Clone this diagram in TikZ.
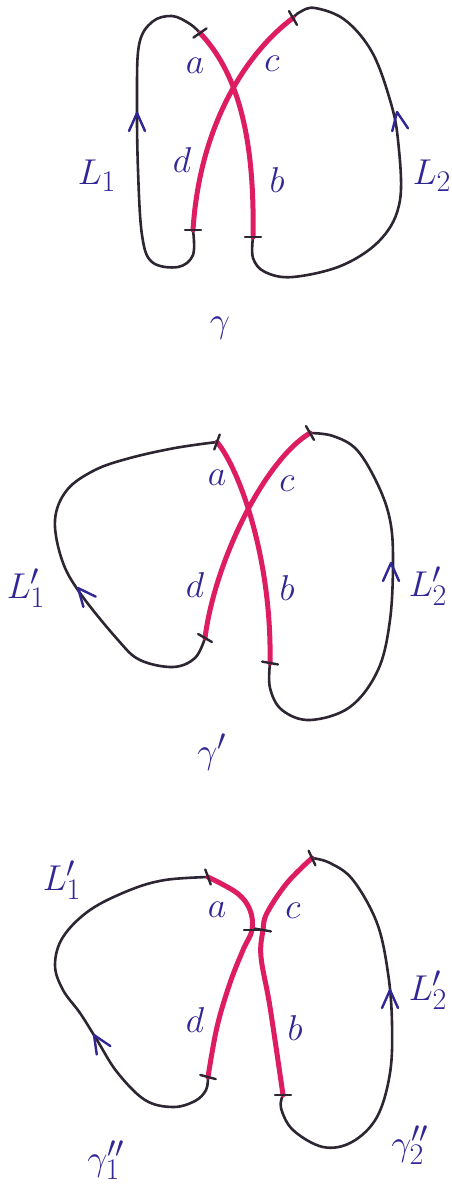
\documentclass[tikz,border=0pt]{standalone}
\usetikzlibrary{calc}
\definecolor{strand}{RGB}{222,28,98}
\definecolor{ink}{RGB}{48,38,150}
\definecolor{pencil}{RGB}{45,38,50}
\tikzset{
  loopst/.style={draw=pencil, line width=2.6bp, line cap=round, line join=round},
  strandst/.style={draw=strand, line width=5bp, line cap=round},
  tickst/.style={draw=pencil, line width=2.4bp, line cap=round},
  chevst/.style={draw=ink, line width=2.4bp, line cap=round, line join=round},
  lab/.style={text=ink, inner sep=0pt, font=\Huge, scale=1.45, transform shape}
}
\newcommand\chevron[2]{\draw[chevst, shift={#1}, rotate=#2] (-18,-8) -- (0,0) -- (-18,8);}
\newcommand\tickmark[2]{\draw[tickst, shift={#1}, rotate=#2] (-8,0) -- (8,0);}
\begin{document}
\begin{tikzpicture}[x=1bp,y=-1bp]
\path[fill=white, use as bounding box] (0,0) rectangle (452,1192);

% ---------------- diagram 1 ----------------
\coordinate (A1) at (200,33);
\coordinate (C1) at (293,18);
\coordinate (D1) at (193,230);
\coordinate (B1) at (253,237);
\draw[loopst] plot[smooth, tension=0.6] coordinates {(D1) (193,255) (178,267) (152,262) (142,235) (138,170) (137,100) (139,45) (152,22) (172,16) (190,24) (A1)};
\draw[loopst] plot[smooth, tension=0.6] coordinates {(B1) (253,258) (265,272) (293,277) (343,265) (382,238) (400,200) (398,140) (390,100) (372,52) (345,20) (315,8) (300,12) (C1)};
\draw[strandst] (C1) .. controls (250,50) and (200,120) .. (D1);
\draw[strandst] (A1) .. controls (235,70) and (255,130) .. (B1);
\tickmark{(A1)}{35}
\tickmark{(C1)}{-60}
\tickmark{(D1)}{0}
\tickmark{(B1)}{0}
\chevron{(137,113)}{90}
\chevron{(397,112)}{100}
\node[lab] (la1) at (195,66) {$a$};
\node[lab] (lc1) at (272,64) {$c$};
\node[lab] (ld1) at (182,160) {$d$};
\node[lab] (lb1) at (277,180) {$b$};
\node[lab] (lL1) at (97,176) {$L_1$};
\node[lab] (lL2) at (432,176) {$L_2$};
\node[lab] (lg1) at (220,328) {$\gamma$};

% ---------------- diagram 2 ----------------
\coordinate (A2) at (217,442);
\coordinate (C2) at (310,433);
\coordinate (D2) at (205,638);
\coordinate (B2) at (270,663);
\draw[loopst] plot[smooth, tension=0.6] coordinates {(D2) (195,658) (173,667) (140,660) (118,640) (80,593) (62,560) (55,520) (67,490) (95,470) (130,458) (175,448) (A2)};
\draw[loopst] plot[smooth, tension=0.6] coordinates {(B2) (270,688) (282,710) (310,720) (350,707) (378,670) (390,620) (393,560) (390,520) (378,485) (357,450) (333,436) (C2)};
\draw[strandst] (C2) .. controls (265,460) and (215,560) .. (D2);
\draw[strandst] (A2) .. controls (240,470) and (272,560) .. (B2);
\tickmark{(A2)}{70}
\tickmark{(C2)}{-60}
\tickmark{(D2)}{-30}
\tickmark{(B2)}{-10}
\chevron{(78,588)}{130}
\chevron{(391,563)}{90}
\node[lab] (la2) at (217,478) {$a$};
\node[lab] (lc2) at (287,484) {$c$};
\node[lab] (ld2) at (195,585) {$d$};
\node[lab] (lb2) at (287,588) {$b$};
\node[lab] (lL3) at (26,588) {$L_1'$};
\node[lab] (lL4) at (428,586) {$L_2'$};
\node[lab] (lg2) at (212,752) {$\gamma'$};

% ---------------- diagram 3 ----------------
\coordinate (A3) at (208,877);
\coordinate (C3) at (312,858);
\coordinate (D3) at (208,1077);
\coordinate (B3) at (283,1095);
\coordinate (M1) at (252,930);
\coordinate (M2) at (263,930);
\draw[loopst] plot[smooth, tension=0.6] coordinates {(D3) (206,1090) (195,1101) (173,1107) (145,1100) (117,1072) (97,1040) (80,1013) (63,990) (55,965) (63,937) (90,910) (130,890) (165,880) (A3)};
\draw[loopst] plot[smooth, tension=0.6] coordinates {(B3) (281,1108) (293,1130) (323,1147) (352,1142) (377,1117) (390,1073) (392,1023) (388,973) (377,923) (353,880) (330,863) (C3)};
\draw[strandst] plot[smooth, tension=0.6] coordinates {(A3) (237,893) (250,910) (M1) (243,950) (230,983) (217,1027) (D3)};
\draw[strandst] plot[smooth, tension=0.6] coordinates {(C3) (287,883) (267,913) (M2) (261,957) (270,1007) (B3)};
\tickmark{(A3)}{-70}
\tickmark{(C3)}{-65}
\tickmark{(M1)}{0}
\tickmark{(M2)}{-10}
\tickmark{(D3)}{-15}
\tickmark{(B3)}{0}
\chevron{(94,1035)}{122}
\chevron{(390,990)}{90}
\node[lab] (la3) at (217,910) {$a$};
\node[lab] (lc3) at (293,911) {$c$};
\node[lab] (ld3) at (195,1020) {$d$};
\node[lab] (lb3) at (295,1028) {$b$};
\node[lab] (lL5) at (62,880) {$L_1'$};
\node[lab] (lL6) at (428,990) {$L_2'$};
\node[lab] (lg3) at (106,1160) {$\gamma_1''$};
\node[lab] (lg4) at (410,1145) {$\gamma_2''$};
\end{tikzpicture}
\end{document}
